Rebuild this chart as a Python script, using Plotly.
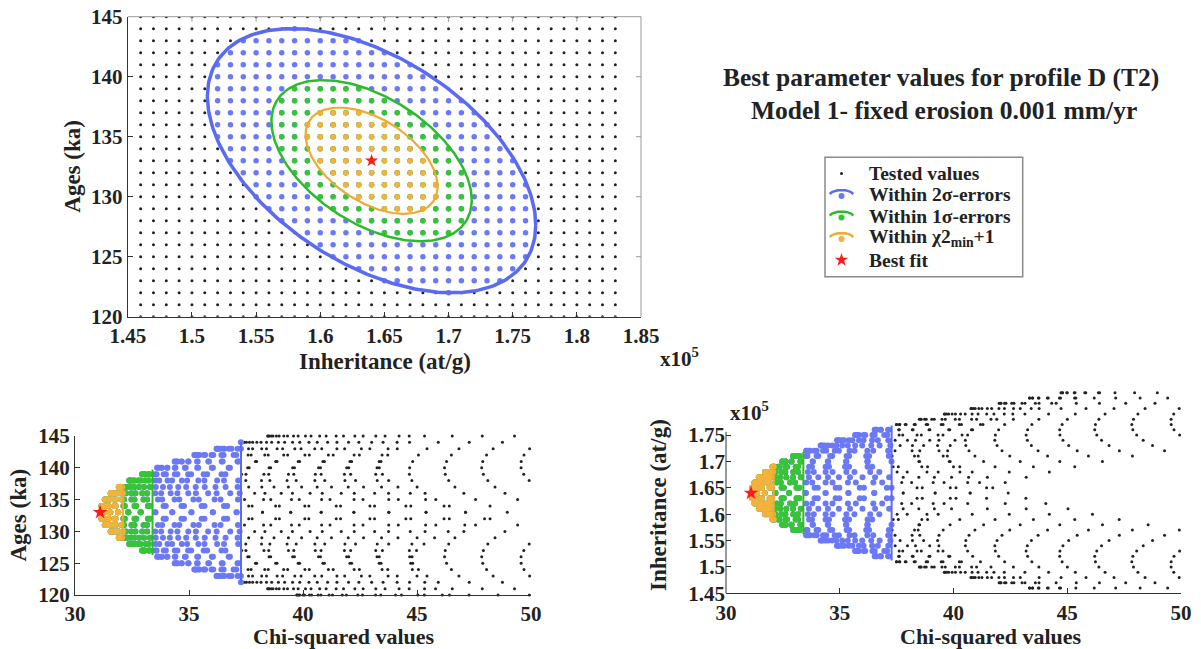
import numpy as np
import plotly.graph_objects as go

# ---------------- data ----------------
# tested grid of parameter values
INHERITANCE_GRID = [1.46, 1.47, 1.48, 1.49, 1.50, 1.51, 1.52, 1.53, 1.54, 1.55,
                    1.56, 1.57, 1.58, 1.59, 1.60, 1.61, 1.62, 1.63, 1.64, 1.65,
                    1.66, 1.67, 1.68, 1.69, 1.70, 1.71, 1.72, 1.73, 1.74, 1.75,
                    1.76, 1.77, 1.78, 1.79, 1.80, 1.81, 1.82, 1.83]   # x10^5 at/g
AGE_GRID = [120, 121, 122, 123, 124, 125, 126, 127, 128, 129, 130, 131, 132,
            133, 134, 135, 136, 137, 138, 139, 140, 141, 142, 143, 144, 145]  # ka

# best fit and chi-squared surface (estimated from the ellipses / scatter)
BEST_FIT_INHERITANCE = 1.64
BEST_FIT_AGE = 133
CHI2_MIN = 31.1
COV_INH_INH = 0.00265
COV_AGE_AGE = 19.6
COV_INH_AGE = -0.111

LEVEL_NAMES = ["Within 2σ-errors", "Within 1σ-errors", "Within χ2<sub>min</sub>+1"]
LEVEL_DELTA = [6.18, 2.30, 1.0]
DOT_COLORS = ["#6b79f7", "#35c535", "#f3b23a"]
LINE_COLORS = ["#5a6af3", "#2dbb2d", "#f0aa2e"]

TOP_X_TICKS = [1.45, 1.50, 1.55, 1.60, 1.65, 1.70, 1.75, 1.80, 1.85]
TOP_X_TICKTEXT = ["1.45", "1.5", "1.55", "1.6", "1.65", "1.7", "1.75", "1.8", "1.85"]
AGE_TICKS = [120, 125, 130, 135, 140, 145]
CHI_TICKS = [30, 35, 40, 45, 50]
INH_TICKS = [1.45, 1.50, 1.55, 1.60, 1.65, 1.70, 1.75]
INH_TICKTEXT = ["1.45", "1.5", "1.55", "1.6", "1.65", "1.7", "1.75"]

TITLE_LINES = ["Best parameter values for profile D (T2)",
               "Model 1- fixed erosion 0.001 mm/yr"]
LEGEND_LABELS = ["Tested values"] + LEVEL_NAMES + ["Best fit"]

# ---------------- derived values ----------------
W, H = 1201, 649
gx, gy = np.meshgrid(np.array(INHERITANCE_GRID), np.array(AGE_GRID))
gx = gx.ravel()
gy = gy.ravel()
cov = np.array([[COV_INH_INH, COV_INH_AGE], [COV_INH_AGE, COV_AGE_AGE]])
icov = np.linalg.inv(cov)
dx = gx - BEST_FIT_INHERITANCE
dy = gy - BEST_FIT_AGE
delta = icov[0, 0] * dx * dx + 2 * icov[0, 1] * dx * dy + icov[1, 1] * dy * dy
chi2 = CHI2_MIN + delta
chol = np.linalg.cholesky(cov)


def px(x):
    return x / W


def py(y):
    return 1 - y / H


FONT = "Liberation Serif"
BOLD = dict(family=FONT, size=21, color="#222222", weight="bold")

fig = go.Figure()

# ---------- top panel ----------
fig.add_trace(go.Scatter(x=gx, y=gy, mode="markers", xaxis="x", yaxis="y",
                         marker=dict(size=3, color="#222222"), showlegend=False,
                         cliponaxis=True))
for name, d, c in zip(LEVEL_NAMES, LEVEL_DELTA, DOT_COLORS):
    m = delta <= d
    fig.add_trace(go.Scatter(x=gx[m], y=gy[m], mode="markers", xaxis="x", yaxis="y",
                             marker=dict(size=5.5, color=c), showlegend=False))
t = np.linspace(0, 2 * np.pi, 300)
for d, c, lw in zip(LEVEL_DELTA, LINE_COLORS, [3.5, 2.5, 2.2]):
    e = chol @ np.vstack([np.cos(t), np.sin(t)]) * np.sqrt(d)
    fig.add_trace(go.Scatter(x=BEST_FIT_INHERITANCE + e[0], y=BEST_FIT_AGE + e[1],
                             mode="lines", xaxis="x", yaxis="y",
                             line=dict(color=c, width=lw), showlegend=False))
fig.add_trace(go.Scatter(x=[BEST_FIT_INHERITANCE], y=[BEST_FIT_AGE], mode="markers",
                         xaxis="x", yaxis="y",
                         marker=dict(symbol="star", size=10, color="#ff1a1a"),
                         showlegend=False))

# ---------- bottom panels ----------
vis = chi2 <= 50.05
for xa, ya, yv, center, var in [("x2", "y2", gy, BEST_FIT_AGE, COV_AGE_AGE),
                                ("x3", "y3", gx, BEST_FIT_INHERITANCE, COV_INH_INH)]:
    fig.add_trace(go.Scatter(x=chi2[vis], y=yv[vis], mode="markers", xaxis=xa, yaxis=ya,
                             marker=dict(size=3, color="#222222"), showlegend=False,
                             cliponaxis=False))
    for d, c in zip(LEVEL_DELTA, DOT_COLORS):
        m = delta <= d
        fig.add_trace(go.Scatter(x=chi2[m], y=yv[m], mode="markers", xaxis=xa, yaxis=ya,
                                 marker=dict(size=6, color=c), showlegend=False,
                                 cliponaxis=False))
    for d, c in zip(LEVEL_DELTA, LINE_COLORS):
        half = np.sqrt(d * var)
        fig.add_trace(go.Scatter(x=[CHI2_MIN + d, CHI2_MIN + d],
                                 y=[center - half, center + half],
                                 mode="lines", xaxis=xa, yaxis=ya,
                                 line=dict(color=c, width=2), showlegend=False,
                                 cliponaxis=False))
    fig.add_trace(go.Scatter(x=[CHI2_MIN], y=[center], mode="markers", xaxis=xa, yaxis=ya,
                             marker=dict(symbol="star", size=11, color="#ff1a1a"),
                             showlegend=False, cliponaxis=False))

# ---------- legend (drawn on a full-canvas pixel overlay axis) ----------
LEG_ROWS = [173.5, 195, 216.5, 238, 260]
LEG_SYM_X = 841.5
fig.add_trace(go.Scatter(x=[LEG_SYM_X], y=[LEG_ROWS[0]], mode="markers", xaxis="x4",
                         yaxis="y4", marker=dict(size=3, color="#222222"),
                         showlegend=False))
ta = np.linspace(0.34, np.pi - 0.34, 30)
for i, (dc, lc) in enumerate(zip(DOT_COLORS, LINE_COLORS)):
    r = LEG_ROWS[i + 1]
    fig.add_trace(go.Scatter(x=LEG_SYM_X + 12.5 * np.cos(ta), y=r + 1 - 6 * np.sin(ta),
                             mode="lines", xaxis="x4", yaxis="y4",
                             line=dict(color=lc, width=2.5), showlegend=False))
    fig.add_trace(go.Scatter(x=[LEG_SYM_X], y=[r + 1], mode="markers", xaxis="x4",
                             yaxis="y4", marker=dict(size=6, color=dc), showlegend=False))
fig.add_trace(go.Scatter(x=[LEG_SYM_X], y=[LEG_ROWS[4]], mode="markers", xaxis="x4",
                         yaxis="y4", marker=dict(symbol="star", size=10, color="#ff1a1a"),
                         showlegend=False))

# ---------- axes ----------
common = dict(showgrid=False, zeroline=False, showline=True, linecolor="#333333",
              linewidth=1, ticks="inside", ticklen=5, tickwidth=1, tickcolor="#333333",
              tickfont=BOLD, automargin=False)
TOP_X = [127.8, 641.0]
TOP_Y = [16.7, 316.7]
BR_X0 = 726.0
BR_INH_TOP = 1.845
BR_PIX_TOP = 593.3 - (BR_INH_TOP - 1.45) / 0.30 * (593.3 - 435.0)
fig.update_layout(
    template="none",
    xaxis=dict(domain=[px(TOP_X[0]), px(TOP_X[1])], range=[1.45, 1.85], anchor="y",
               tickvals=TOP_X_TICKS, ticktext=TOP_X_TICKTEXT, **common),
    yaxis=dict(domain=[py(TOP_Y[1]), py(TOP_Y[0])], range=[120, 145], anchor="x",
               tickvals=AGE_TICKS, **common),
    xaxis2=dict(domain=[px(75), px(531)], range=[30, 50], anchor="y2",
                tickvals=CHI_TICKS, **common),
    yaxis2=dict(domain=[py(595), py(436)], range=[120, 145], anchor="x2",
                tickvals=AGE_TICKS, **common),
    xaxis3=dict(domain=[px(BR_X0), px(1181)], range=[30, 50], anchor="y3",
                tickvals=CHI_TICKS, **common),
    yaxis3=dict(domain=[py(593.3), py(BR_PIX_TOP)], range=[1.45, BR_INH_TOP], anchor="x3",
                tickvals=INH_TICKS, ticktext=INH_TICKTEXT,
                **{**common, "showline": False}),
    xaxis4=dict(domain=[0, 1], range=[0, W], anchor="y4", visible=False,
                fixedrange=True, automargin=False),
    yaxis4=dict(domain=[0, 1], range=[H, 0], anchor="x4", visible=False,
                fixedrange=True, automargin=False),
)

shapes = [
    # top/right frame of top panel (lighter gray)
    dict(type="line", xref="paper", yref="paper", x0=px(TOP_X[0]), x1=px(TOP_X[1]),
         y0=py(TOP_Y[0]), y1=py(TOP_Y[0]), line=dict(color="#9a9a9a", width=1)),
    dict(type="line", xref="paper", yref="paper", x0=px(TOP_X[1]), x1=px(TOP_X[1]),
         y0=py(TOP_Y[0]), y1=py(TOP_Y[1]), line=dict(color="#9a9a9a", width=1)),
    # left spine of the bottom-right panel (stops at 1.756)
    dict(type="line", xref="paper", yref="y3", x0=px(BR_X0), x1=px(BR_X0),
         y0=1.45, y1=1.756, line=dict(color="#333333", width=1)),
]
for v in TOP_X_TICKS[1:-1]:
    shapes.append(dict(type="line", xref="x", yref="paper", x0=v, x1=v,
                       y0=py(TOP_Y[0]), y1=py(TOP_Y[0] + 5),
                       line=dict(color="#9a9a9a", width=1)))
for v in AGE_TICKS[1:-1]:
    shapes.append(dict(type="line", xref="paper", yref="y", y0=v, y1=v,
                       x0=px(TOP_X[1]), x1=px(TOP_X[1] - 5),
                       line=dict(color="#9a9a9a", width=1)))
# legend box
shapes.append(dict(type="rect", xref="paper", yref="paper", x0=px(825), x1=px(1022.7),
                   y0=py(276.7), y1=py(157.3), line=dict(color="#8a8a8a", width=1.5),
                   fillcolor="rgba(0,0,0,0)"))

ann = []


def text(s, x, y, size, angle=0, xanchor="center", yanchor="middle"):
    ann.append(dict(text=s, x=px(x), y=py(y), xref="paper", yref="paper",
                    showarrow=False, textangle=angle, xanchor=xanchor, yanchor=yanchor,
                    font=dict(family=FONT, size=size, color="#222222", weight="bold")))


text(TITLE_LINES[0], 941, 93.5, 25.5, yanchor="bottom")
text(TITLE_LINES[1], 944, 93.5, 25.5, yanchor="top")
text("Ages (ka)", 73, 166.7, 23, angle=-90)
text("Inheritance (at/g)", 385, 361, 23)
text("x10<sup>5</sup>", 658, 357, 21, xanchor="left")
text("Ages (ka)", 18, 515.5, 23, angle=-90)
text("Chi-squared values", 344, 636, 22)
text("Inheritance (at/g)", 658, 505, 23, angle=-90)
text("Chi-squared values", 991, 636, 22)
text("x10<sup>5</sup>", 728, 411, 21, xanchor="left")
for lab, r in zip(LEGEND_LABELS, LEG_ROWS):
    text(lab, 866.7, r, 19.5, xanchor="left")

fig.update_layout(width=W, height=H, margin=dict(l=0, r=0, t=0, b=0, pad=0),
                  paper_bgcolor="white", plot_bgcolor="rgba(0,0,0,0)",
                  showlegend=False, shapes=shapes, annotations=ann)

fig.write_html("out.html", config={"displayModeBar": False},
               post_script="document.body.style.margin='0px';")
